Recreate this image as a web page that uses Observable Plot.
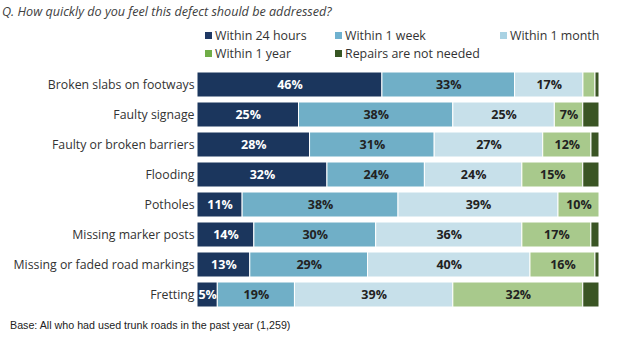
<!DOCTYPE html>
<html>
<head>
<meta charset="utf-8">
<script src="https://cdn.jsdelivr.net/npm/d3@7"></script>
<script src="https://cdn.jsdelivr.net/npm/@observablehq/plot@0.6"></script>
<style>
  body { margin: 0; background: #fff; }
  #wrap { position: relative; width: 624px; height: 340px; overflow: hidden; font-family: "Open Sans", sans-serif; }
  #title { position: absolute; left: 2px; top: 3px; font-size: 12.6px; font-style: italic; color: #404040; white-space: nowrap; }
  .lg { position: absolute; font-size: 12.4px; color: #333; white-space: nowrap; line-height: 15px; }
  .lg span.sw { position: absolute; left: -10px; top: 4px; width: 7px; height: 7px; }
  #caption { position: absolute; left: 10px; top: 319px; font-family: "Liberation Sans", Arial, sans-serif; font-size: 10.7px; color: #222; white-space: nowrap; }
  #chart { position: absolute; left: 0; top: 0; }
</style>
</head>
<body>
<div id="wrap">
  <div id="chart"></div>
  <div id="title"></div>
  <div id="legend"></div>
  <div id="caption"></div>
</div>
<script>
const titleText = "Q. How quickly do you feel this defect should be addressed?";
const captionText = "Base: All who had used trunk roads in the past year (1,259)";

const categories = [
  "Broken slabs on footways",
  "Faulty signage",
  "Faulty or broken barriers",
  "Flooding",
  "Potholes",
  "Missing marker posts",
  "Missing or faded road markings",
  "Fretting"
];
const seriesNames = ["Within 24 hours", "Within 1 week", "Within 1 month", "Within 1 year", "Repairs are not needed"];
const within24h  = [46, 25, 28, 32, 11, 14, 13, 5];
const within1wk  = [33, 38, 31, 24, 38, 30, 29, 19];
const within1mo  = [17, 25, 27, 24, 39, 36, 40, 39];
const within1yr  = [3, 7, 12, 15, 10, 17, 16, 32];
const notNeeded  = [1, 4, 2, 4, 0, 2, 1, 4];

const barColors    = ["#1b365d", "#70afc7", "#c7e0ea", "#a8c98c", "#3a5524"];
const legendColors = ["#1f3864", "#6fb1cf", "#a9d2e3", "#70ad47", "#375623"];
const labelColors  = ["#ffffff", "#222222", "#222222", "#222222", "#222222"];

const seriesValues = [within24h, within1wk, within1mo, within1yr, notNeeded];
const rows = [];
seriesNames.forEach((s, si) => {
  categories.forEach((c, ci) => {
    rows.push({series: s, cat: c, value: seriesValues[si][ci], si});
  });
});

document.getElementById("title").textContent = titleText;
document.getElementById("caption").textContent = captionText;

// legend
const legendPos = [
  {left: 215, top: 28}, {left: 345, top: 28}, {left: 510, top: 28},
  {left: 215, top: 46}, {left: 345, top: 46}
];
const lg = document.getElementById("legend");
seriesNames.forEach((s, i) => {
  const d = document.createElement("div");
  d.className = "lg";
  d.style.left = legendPos[i].left + "px";
  d.style.top = legendPos[i].top + "px";
  const sw = document.createElement("span");
  sw.className = "sw";
  sw.style.background = legendColors[i];
  d.appendChild(sw);
  d.appendChild(document.createTextNode(s));
  lg.appendChild(d);
});

const chart = Plot.plot({
  width: 624,
  height: 318,
  marginTop: 68,
  marginBottom: 7,
  marginLeft: 197,
  marginRight: 25,
  style: {fontFamily: "Open Sans, sans-serif", background: "transparent"},
  x: {domain: [0, 1], axis: null},
  y: {domain: categories, paddingInner: 0.18, paddingOuter: 0.09, label: null},
  color: {domain: seriesNames, range: barColors},
  marks: [
    Plot.axisY({tickSize: 0, tickPadding: 3, fontSize: 12.3, color: "#333", label: null}),
    Plot.barX(rows, Plot.stackX({offset: "normalize", x: "value", y: "cat", fill: "series", stroke: "white", strokeWidth: 1})),
    Plot.text(rows, Plot.stackX({
      offset: "normalize",
      x: "value", y: "cat", z: "series",
      text: d => d.value >= 5 ? d.value + "%" : "",
      fill: d => labelColors[d.si],
      fontWeight: "bold",
      fontSize: 12.5
    }))
  ]
});
document.getElementById("chart").appendChild(chart);
</script>
</body>
</html>
